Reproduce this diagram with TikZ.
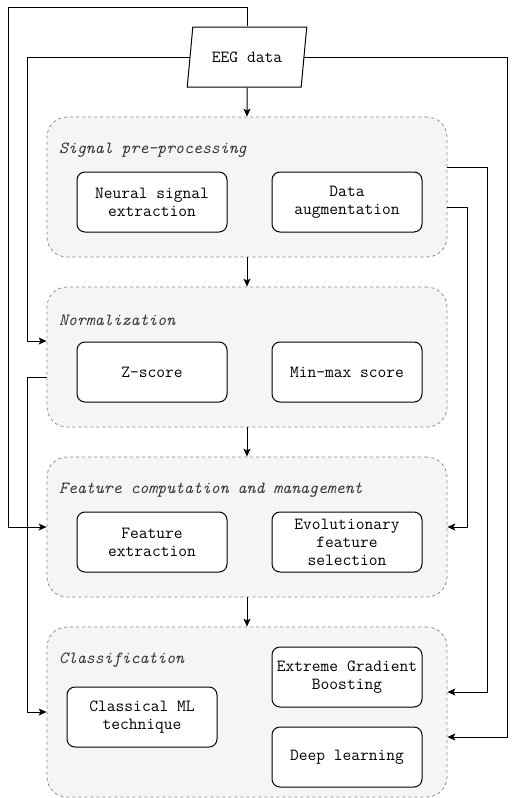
\documentclass[tikz,border=0pt]{standalone}
\usepackage{fontspec}
\usetikzlibrary{arrows.meta}
\usetikzlibrary{shapes.geometric,calc}

\begin{document}
\begin{tikzpicture}[x=1pt, y=-1pt,
		font=\ttfamily\fontsize{17}{18}\selectfont,
		grp/.style={draw=black!45, dash pattern=on 3pt off 3pt, fill=black!4, rounded corners=20pt, minimum width=400pt, line width=0.8pt},
		grplabel/.style={anchor=west, inner sep=0pt, text=black!80, font=\ttfamily\itshape\fontsize{17}{18}\selectfont},
		proc/.style={draw, fill=white, rounded corners=8pt, minimum width=150pt, minimum height=60pt, align=center, line width=1pt, inner sep=2pt},
		arr/.style={-{Stealth[length=8pt,width=7pt,inset=2pt]}, line width=1pt}]
		\useasboundingbox (0,0) rectangle (516,798);
		
		% input
		\node[draw, trapezium, trapezium left angle=71.57, trapezium right angle=108.43, trapezium stretches=true, minimum width=120pt, minimum height=60pt, inner sep=0pt, line width=1pt] (eeg) at (247,57) {EEG data};
		
		% stages
		\node[grp, minimum height=140pt] (sigpre) at (247,187) {};
		\node[grp, minimum height=140pt] (norm) at (247,357) {};
		\node[grp, minimum height=140pt] (featcomp) at (247,527) {};
		\node[grp, minimum height=170pt] (classif) at (247,712) {};
		
		\node[grplabel] (sigprelbl) at (59,150) {Signal pre-processing};
		\node[grplabel] (normlbl) at (59,320) {Normalization};
		\node[grplabel] (featcomplbl) at (59,490) {Feature computation and management};
		\node[grplabel] (classiflbl) at (59,660) {Classification};
		
		\node[proc] (neural) at (152,202) {Neural signal\\extraction};
		\node[proc] (augment) at (347,202) {Data\\augmentation};
		\node[proc] (zscore) at (152,372) {Z-score};
		\node[proc] (minmax) at (347,372) {Min-max score};
		\node[proc] (featext) at (152,542) {Feature\\extraction};
		\node[proc] (evosel) at (347,542) {Evolutionary\\feature\\selection};
		\node[proc] (classml) at (142,717) {Classical ML\\technique};
		\node[proc] (xgboost) at (347,677) {Extreme Gradient\\Boosting};
		\node[proc] (deeplrn) at (347,757) {Deep learning};
		
		% connectors
		\coordinate (c1) at (8,7);
		\coordinate (c2) at (27,341);
		\coordinate (c3) at (27,712);
		\coordinate (c4) at (507,737);
		\coordinate (c5) at (487,692);
		\coordinate (c6) at (467,527);
		
		\draw[arr] (eeg.south) -- (sigpre.north);
		\draw[arr] (sigpre.south) -- (norm.north);
		\draw[arr] (norm.south) -- (featcomp.north);
		\draw[arr] (featcomp.south) -- (classif.north);
		
		\draw[arr] (eeg.north) |- (c1) |- (featcomp.west);
		\draw[arr] (eeg.west) -| (c2) -- ($(norm.west)+(0,-16)$);
		\draw[arr] ($(norm.west)+(0,20)$) -| (c3) -- (classif.west);
		\draw[arr] (eeg.east) -| (c4) -- ($(classif.east)+(0,25)$);
		\draw[arr] ($(sigpre.east)+(0,-20)$) -| (c5) -- ($(classif.east)+(0,-20)$);
		\draw[arr] ($(sigpre.east)+(0,20)$) -| (c6) -- (featcomp.east);
		
\end{tikzpicture}
\end{document}
